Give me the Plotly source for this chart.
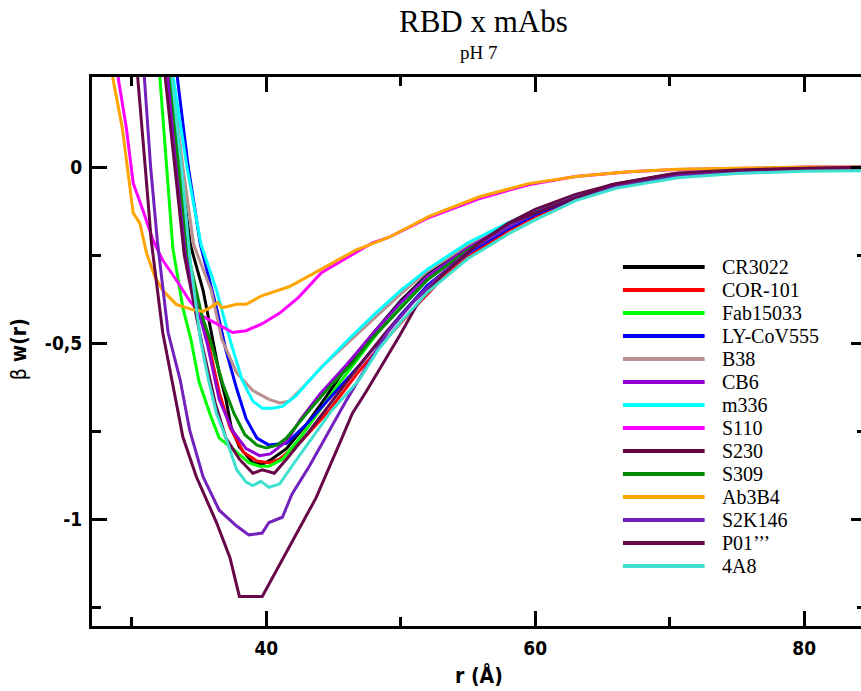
import plotly.graph_objects as go

# ---------------- data ----------------
series_names = ["CR3022", "COR-101", "Fab15033", "LY-CoV555", "B38", "CB6", "m336",
                "S110", "S230", "S309", "Ab3B4", "S2K146", "P01\u2019\u2019\u2019", "4A8"]
series_colors = ["#000000", "#ff0000", "#00ff00", "#0000ff", "#bc8f8f", "#9400d3", "#00ffff",
                 "#ff00ff", "#670748", "#008b00", "#ffa500", "#7221bc", "#670748", "#40e0d0"]

cr3022_r = [32.2, 32.9, 33.6, 34.35, 35.3, 36.0, 36.5, 37.0, 37.4, 38.0, 39.0, 39.7, 40.4, 41.5, 43, 44.5, 46, 48, 50, 52, 55, 58, 60, 63, 66, 70, 75, 80, 85]
cr3022_w = [0.6, 0.25, 0.0, -0.22, -0.35, -0.49, -0.585, -0.66, -0.74, -0.795, -0.84, -0.845, -0.83, -0.80, -0.73, -0.65, -0.565, -0.47, -0.38, -0.305, -0.23, -0.165, -0.127, -0.083, -0.052, -0.024, -0.011, -0.004, -0.002]

cor101_r = [32.1, 32.8, 33.4, 34.1, 35.0, 35.7, 36.5, 37.3, 38.3, 39.3, 40.2, 41.0, 42.7, 44.7, 46.9, 48.9, 51, 53, 55, 58, 60, 63, 66, 70, 75, 80, 85]
cor101_w = [0.6, 0.25, 0.0, -0.25, -0.40, -0.50, -0.64, -0.74, -0.81, -0.835, -0.84, -0.83, -0.775, -0.69, -0.58, -0.49, -0.40, -0.32, -0.255, -0.18, -0.14, -0.092, -0.058, -0.027, -0.012, -0.005, -0.002]

fab15033_r = [31.4, 32.1, 32.6, 33.05, 33.8, 34.4, 35.0, 35.8, 36.5, 37.5, 38.7, 39.5, 40.2, 41.2, 42.5, 44, 45.5, 47.5, 49.5, 52, 55, 58, 60, 63, 66, 70, 75, 80, 85]
fab15033_w = [0.6, 0.25, 0.0, -0.23, -0.40, -0.49, -0.61, -0.70, -0.77, -0.80, -0.84, -0.85, -0.85, -0.83, -0.77, -0.69, -0.61, -0.51, -0.41, -0.31, -0.235, -0.17, -0.13, -0.086, -0.054, -0.025, -0.011, -0.004, -0.002]

lycov555_r = [32.7, 33.4, 34.2, 35.1, 36.3, 37.0, 37.8, 38.5, 39.3, 40.2, 41.5, 43, 45, 47, 48.5, 50, 52, 55, 58, 60, 63, 66, 70, 75, 80, 85]
lycov555_w = [0.6, 0.25, 0.0, -0.22, -0.40, -0.52, -0.63, -0.715, -0.77, -0.79, -0.785, -0.73, -0.645, -0.56, -0.49, -0.42, -0.335, -0.245, -0.175, -0.135, -0.088, -0.055, -0.026, -0.012, -0.005, -0.002]

b38_r = [32.3, 33.0, 33.8, 34.6, 35.9, 36.7, 37.8, 39.0, 40.2, 41.0, 41.7, 43, 44.2, 46.3, 48, 50, 52, 55, 58, 60, 63, 66, 70, 75, 80, 85]
b38_w = [0.6, 0.25, 0.0, -0.22, -0.35, -0.49, -0.585, -0.635, -0.66, -0.67, -0.665, -0.615, -0.565, -0.49, -0.43, -0.36, -0.295, -0.22, -0.16, -0.123, -0.08, -0.05, -0.022, -0.01, -0.004, -0.002]

cb6_r = [32.0, 32.7, 33.3, 34.0, 34.9, 35.6, 36.5, 37.5, 38.5, 39.5, 40.3, 41.5, 42.5, 44, 46, 48, 50, 52, 55, 58, 60, 63, 66, 70, 75, 80, 85]
cb6_w = [0.6, 0.25, 0.0, -0.25, -0.40, -0.50, -0.66, -0.75, -0.80, -0.82, -0.815, -0.78, -0.72, -0.645, -0.56, -0.47, -0.385, -0.31, -0.23, -0.165, -0.127, -0.083, -0.052, -0.023, -0.01, -0.004, -0.001]

m336_r = [32.4, 33.1, 34.1, 35.15, 36.3, 37.3, 38.2, 39.0, 39.7, 40.5, 41.2, 42.2, 43.7, 46.1, 48, 50, 52, 55, 58, 60, 63, 66, 70, 75, 80, 85]
m336_w = [0.6, 0.25, 0.0, -0.22, -0.35, -0.49, -0.605, -0.665, -0.685, -0.685, -0.68, -0.65, -0.585, -0.49, -0.42, -0.35, -0.29, -0.215, -0.158, -0.122, -0.08, -0.05, -0.022, -0.01, -0.004, -0.002]

s110_r = [28.5, 29.0, 29.6, 30.1, 30.8, 31.6, 32.3, 33.3, 34.3, 35.3, 36.3, 37.5, 38.5, 39.7, 41.0, 42.4, 44.1, 46.1, 47.9, 49.1, 52, 55.8, 59.5, 63, 67, 70.6, 75.6, 80.4, 85]
s110_w = [0.6, 0.25, 0.11, -0.045, -0.12, -0.21, -0.265, -0.32, -0.38, -0.425, -0.445, -0.47, -0.465, -0.445, -0.415, -0.37, -0.30, -0.255, -0.215, -0.20, -0.145, -0.09, -0.05, -0.027, -0.013, -0.007, -0.003, 0.0, 0.0]

s230_r = [31.8, 32.5, 33.2, 33.9, 35.2, 36.2, 37.0, 38.0, 39.0, 39.7, 40.6, 41.5, 43, 45, 47, 49, 51, 53, 55, 58, 60, 63, 66, 70, 75, 80, 85]
s230_w = [0.6, 0.25, 0.0, -0.25, -0.50, -0.67, -0.77, -0.83, -0.87, -0.86, -0.87, -0.83, -0.76, -0.66, -0.56, -0.465, -0.38, -0.305, -0.24, -0.16, -0.12, -0.078, -0.047, -0.02, -0.008, -0.003, -0.001]

s309_r = [32.2, 32.9, 33.5, 34.2, 35.2, 35.9, 36.8, 37.6, 38.4, 39.3, 40.0, 40.8, 41.5, 43, 44.7, 46.4, 47.8, 50, 52, 55, 58, 60, 63, 66, 70, 75, 80, 85]
s309_w = [0.6, 0.25, 0.0, -0.25, -0.42, -0.50, -0.62, -0.70, -0.76, -0.79, -0.798, -0.79, -0.77, -0.70, -0.625, -0.557, -0.49, -0.40, -0.32, -0.235, -0.168, -0.13, -0.085, -0.053, -0.024, -0.011, -0.004, -0.002]

ab3b4_r = [28.0, 28.6, 29.3, 29.85, 30.1, 30.6, 31.1, 31.7, 32.3, 33.3, 34.5, 35.3, 35.8, 36.4, 36.7, 37.8, 38.5, 39.7, 41.7, 44.1, 46.7, 49.1, 52.1, 55.8, 59.5, 63.2, 66.9, 70.6, 75.6, 80.4, 85]
ab3b4_w = [0.6, 0.25, 0.11, -0.057, -0.13, -0.16, -0.245, -0.31, -0.35, -0.39, -0.405, -0.41, -0.40, -0.385, -0.40, -0.39, -0.39, -0.365, -0.34, -0.29, -0.235, -0.20, -0.14, -0.085, -0.047, -0.026, -0.013, -0.006, -0.003, 0.0, 0.0]

s2k146_r = [30.3, 30.95, 31.4, 31.9, 32.7, 33.6, 34.3, 35.3, 36.5, 37.8, 38.7, 39.7, 40.2, 41.2, 41.9, 43.2, 44.5, 46, 47.4, 49, 51, 53, 55, 58, 60, 63, 66, 70, 75, 80, 85]
s2k146_w = [0.6, 0.25, 0.0, -0.21, -0.47, -0.605, -0.747, -0.88, -0.975, -1.02, -1.045, -1.04, -1.01, -0.995, -0.93, -0.85, -0.76, -0.66, -0.57, -0.47, -0.38, -0.305, -0.24, -0.17, -0.13, -0.085, -0.053, -0.024, -0.011, -0.004, -0.002]

p01_r = [29.8, 30.45, 31.0, 31.45, 32.3, 33.8, 34.8, 36.3, 37.3, 38.0, 39.7, 40.7, 41.9, 43.7, 45.4, 46.4, 47.4, 49.9, 51.3, 53, 55.8, 58, 60.7, 65.6, 70.6, 75, 80, 85]
p01_w = [0.6, 0.25, 0.0, -0.21, -0.47, -0.767, -0.88, -1.01, -1.11, -1.22, -1.22, -1.15, -1.07, -0.94, -0.79, -0.70, -0.64, -0.48, -0.385, -0.31, -0.216, -0.16, -0.12, -0.051, -0.017, -0.008, -0.003, 0.0]

a4a8_r = [32.3, 33.0, 33.7, 34.3, 35.1, 35.7, 36.3, 37.0, 37.8, 38.5, 39.0, 39.6, 40.2, 41.0, 41.9, 43.4, 44.9, 46.9, 48.3, 50, 52, 55, 58, 60, 63, 66, 70.6, 75, 80, 85]
a4a8_w = [0.6, 0.25, 0.0, -0.25, -0.49, -0.605, -0.70, -0.77, -0.86, -0.895, -0.905, -0.893, -0.91, -0.90, -0.85, -0.77, -0.69, -0.605, -0.52, -0.44, -0.355, -0.26, -0.19, -0.15, -0.095, -0.06, -0.03, -0.018, -0.012, -0.01]

series_r = [cr3022_r, cor101_r, fab15033_r, lycov555_r, b38_r, cb6_r, m336_r,
            s110_r, s230_r, s309_r, ab3b4_r, s2k146_r, p01_r, a4a8_r]
series_w = [cr3022_w, cor101_w, fab15033_w, lycov555_w, b38_w, cb6_w, m336_w,
            s110_w, s230_w, s309_w, ab3b4_w, s2k146_w, p01_w, a4a8_w]

x_tickvals = [40, 60, 80]
x_minor = [30, 50, 70]
y_tickvals = [0, -0.5, -1]
y_ticktext = ["0", "-0,5", "-1"]
y_minor = [-0.25, -0.75, -1.25]
x_range = [27.04, 84.6]
y_range = [-1.304, 0.256]

# ---------------- layout constants (page pixels) ----------------
PLOT_L, PLOT_R, PLOT_T, PLOT_B = 92, 869, 77, 626   # plot frame; right side runs past the window
W = PLOT_R + 1
H = 691
ML, MT, MB, MR = PLOT_L, PLOT_T, H - PLOT_B, W - PLOT_R
PW, PH = PLOT_R - PLOT_L, PLOT_B - PLOT_T


def px(xp):
    return (xp - PLOT_L) / PW


def py(yp):
    return (PLOT_B - yp) / PH


fig = go.Figure()
for name, col, r, w in zip(series_names, series_colors, series_r, series_w):
    fig.add_trace(go.Scatter(x=r, y=w, mode="lines", name=name,
                             line=dict(color=col, width=3), showlegend=False))

sans = "Liberation Sans Narrow, DejaVu Sans Condensed, Liberation Sans"
tickfont = dict(family=sans, size=19, color="black", weight="bold")

fig.update_xaxes(range=x_range, showline=True, linewidth=3, linecolor="black", mirror="ticks",
                 ticks="inside", ticklen=15, tickwidth=3, tickcolor="black",
                 tickvals=x_tickvals, tickfont=tickfont, showgrid=False, zeroline=False,
                 minor=dict(tickvals=x_minor, ticks="inside", ticklen=9, tickwidth=3, tickcolor="black"),
                 ticklabelstandoff=3)
fig.update_yaxes(range=y_range, showline=True, linewidth=3, linecolor="black", mirror="ticks",
                 ticks="inside", ticklen=15, tickwidth=3, tickcolor="black",
                 tickvals=y_tickvals, ticktext=y_ticktext, tickfont=tickfont,
                 showgrid=False, zeroline=False,
                 minor=dict(tickvals=y_minor, ticks="inside", ticklen=9, tickwidth=3, tickcolor="black"),
                 ticklabelstandoff=3)

annotations = [
    dict(text="RBD x mAbs", x=px(485), y=py(21), xref="paper", yref="paper", showarrow=False,
         xanchor="center", yanchor="middle",
         font=dict(family="Liberation Serif", size=31, color="black")),
    dict(text="pH 7", x=px(480), y=py(53), xref="paper", yref="paper", showarrow=False,
         xanchor="center", yanchor="middle",
         font=dict(family="Liberation Serif", size=19, color="black")),
    dict(text="r (\u00c5)", x=px(481), y=py(675), xref="paper", yref="paper", showarrow=False,
         xanchor="center", yanchor="middle",
         font=dict(family=sans, size=21, color="black", weight="bold")),
    dict(text="\u03b2 <b>w(r)</b>", x=px(19), y=py(349), xref="paper", yref="paper", showarrow=False,
         xanchor="center", yanchor="middle", textangle=-90,
         font=dict(family=sans, size=21, color="black")),
]

shapes = []
leg_y0, leg_dy = 267, 23.0
for i, (name, col) in enumerate(zip(series_names, series_colors)):
    yy = leg_y0 + i * leg_dy
    shapes.append(dict(type="line", xref="paper", yref="paper", x0=px(625), x1=px(707),
                       y0=py(yy), y1=py(yy), line=dict(color=col, width=4)))
    annotations.append(dict(text=name, x=px(722), y=py(yy), xref="paper", yref="paper",
                            showarrow=False, xanchor="left", yanchor="middle",
                            font=dict(family="Liberation Serif", size=20, color="black")))

fig.update_layout(width=W, height=H, autosize=False,
                  margin=dict(l=ML, r=MR, t=MT, b=MB, pad=0),
                  plot_bgcolor="white", paper_bgcolor="white",
                  annotations=annotations, shapes=shapes, showlegend=False)

# place the figure at the page corner (remove the default 8 px body margin)
fig.write_html("out.html", config={"displayModeBar": False},
               post_script="document.body.style.margin='0';document.body.style.overflow='hidden';")
